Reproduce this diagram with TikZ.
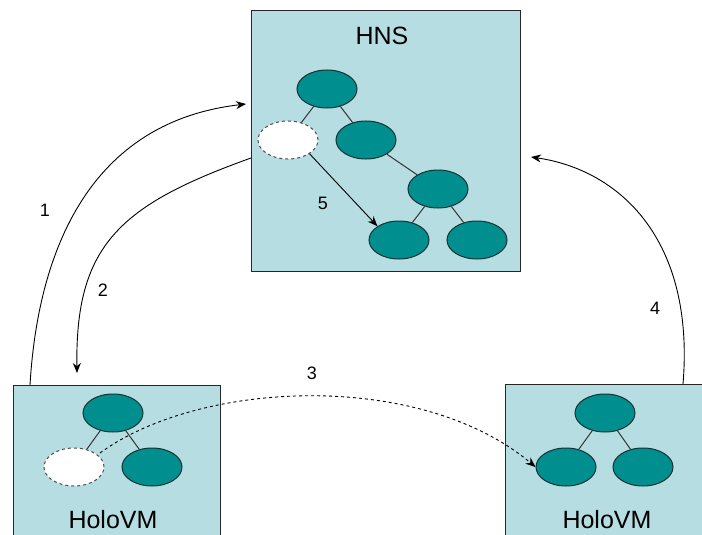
\documentclass[tikz,border=0pt]{standalone}
\usepackage{fontspec}
\setmainfont{Liberation Sans}
\usetikzlibrary{shapes.geometric,arrows.meta}
\definecolor{boxfill}{RGB}{182,221,226}
\definecolor{teal}{RGB}{0,142,142}
\definecolor{tealline}{RGB}{20,50,50}
\tikzset{
  panel/.style={draw=black!85, line width=0.9pt, fill=boxfill, rectangle, inner sep=0pt},
  tnode/.style={ellipse, draw=tealline, line width=1pt, fill=teal, minimum width=60pt, minimum height=38pt, inner sep=0pt},
  gnode/.style={ellipse, draw=black!70, dashed, line width=1pt, fill=white, minimum width=60pt, minimum height=38pt, inner sep=0pt},
  tedge/.style={draw=black!80, line width=1pt},
  conn/.style={draw=black, line width=0.9pt, -{Stealth[length=10pt,width=8pt]}},
  lbl/.style={font=\fontsize{18}{20}\selectfont, inner sep=0pt},
  title/.style={font=\fontsize{25}{28}\selectfont, inner sep=0pt}
}
\begin{document}
\begin{tikzpicture}[x=1pt,y=-1pt]
\useasboundingbox (0,0) rectangle (702,535);
\clip (0,0) rectangle (702,535);
% panels
\node[panel, minimum width=269pt, minimum height=261pt] (hns) at (385.5,140.5) {};
\node[panel, minimum width=207pt, minimum height=170pt] (lvm) at (116.5,470) {};
\node[panel, minimum width=205pt, minimum height=170pt] (rvm) at (607.5,469) {};
\node[title] (hnst) at (382,36) {HNS};
\node[title] (lvmt) at (113,520) {HoloVM};
\node[title] (rvmt) at (607,520) {HoloVM};
% HNS tree
\node[tnode] (h1) at (327,89) {};
\node[gnode] (h2) at (288,140) {};
\node[tnode] (h3) at (366,140) {};
\node[tnode] (h4) at (438,189) {};
\node[tnode] (h5) at (399,240) {};
\node[tnode] (h6) at (477,240) {};
\draw[tedge] (h1) -- (h2);
\draw[tedge] (h1) -- (h3);
\draw[tedge] (h3) -- (h4);
\draw[tedge] (h4) -- (h5);
\draw[tedge] (h4) -- (h6);
% left VM tree
\node[tnode] (l1) at (113,413) {};
\node[gnode] (l2) at (74,467) {};
\node[tnode] (l3) at (152,467) {};
\draw[tedge] (l1) -- (l2);
\draw[tedge] (l1) -- (l3);
% right VM tree
\node[tnode] (r1) at (605,413) {};
\node[tnode] (r2) at (566,467) {};
\node[tnode] (r3) at (643,467) {};
\draw[tedge] (r1) -- (r2);
\draw[tedge] (r1) -- (r3);
% connectors
\coordinate (a1s) at (30,385);
\coordinate (a1e) at (246,104);
\draw[conn] (a1s) .. controls (38,250) and (90,122) .. (a1e);
\coordinate (a2s) at (251,158);
\coordinate (a2e) at (77,373);
\draw[conn] (a2s) .. controls (120,205) and (75,245) .. (a2e);
\coordinate (a3s) at (100,453);
\draw[conn, dashed] (a3s) .. controls (200,380) and (420,370) .. (r2.west);
\coordinate (a4s) at (683,384);
\coordinate (a4e) at (531,157);
\draw[conn] (a4s) .. controls (695,240) and (620,170) .. (a4e);
\draw[conn] (h2.south east) -- (h5.north west);
% labels
\node[lbl] (n1) at (45,210) {1};
\node[lbl] (n2) at (103,290) {2};
\node[lbl] (n3) at (312,373) {3};
\node[lbl] (n4) at (655,308) {4};
\node[lbl] (n5) at (323,203) {5};
\end{tikzpicture}
\end{document}
